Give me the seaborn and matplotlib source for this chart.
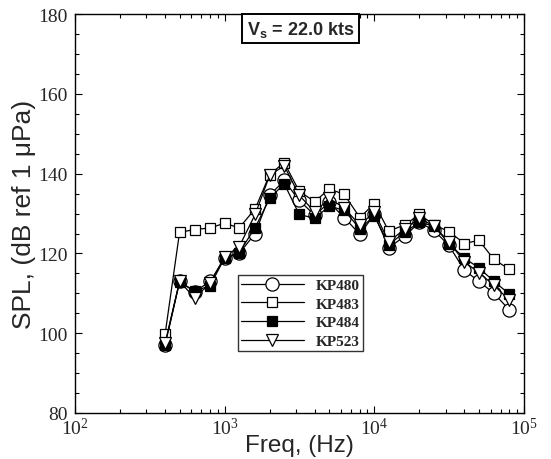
import numpy as np
import pandas as pd
import matplotlib
matplotlib.use("Agg")
import matplotlib.pyplot as plt
from matplotlib.ticker import FixedLocator, FixedFormatter, LogLocator, NullFormatter, MultipleLocator
import seaborn as sns

# One-third octave band centre frequencies (Hz)
freq = [400, 500, 630, 800, 1000, 1250, 1600, 2000, 2500, 3150, 4000, 5000,
        6300, 8000, 10000, 12500, 16000, 20000, 25000, 31500, 40000, 50000,
        63000, 80000]

# Band levels, dB ref 1 uPa
kp480 = [97.0, 113.0, 110.4, 113.0, 118.8, 120.0, 125.0, 134.6, 138.3, 133.3,
         129.6, 132.8, 129.0, 124.8, 129.8, 121.4, 124.4, 127.8, 125.8, 122.0,
         115.8, 113.0, 110.0, 105.8]
kp483 = [99.7, 125.3, 126.0, 126.4, 127.6, 126.4, 131.2, 139.8, 142.8, 135.6,
         133.0, 136.2, 134.8, 129.0, 132.5, 125.6, 127.2, 129.8, 127.2, 125.5,
         122.5, 123.3, 118.5, 116.0]
kp484 = [97.0, 112.9, 110.6, 111.9, 118.9, 120.2, 126.5, 133.8, 137.5, 129.8,
         128.8, 131.9, 130.8, 126.2, 129.4, 122.2, 125.4, 127.8, 126.9, 122.5,
         118.8, 116.4, 113.0, 109.8]
kp523 = [97.5, 113.0, 108.9, 112.5, 119.2, 121.7, 129.8, 139.6, 142.0, 134.6,
         130.4, 133.8, 131.4, 127.1, 130.4, 122.9, 126.2, 128.8, 126.9, 122.9,
         117.9, 115.2, 112.0, 108.3]

series_names = ["KP480", "KP483", "KP484", "KP523"]
series_vals = [kp480, kp483, kp484, kp523]

y_ticks = [80, 100, 120, 140, 160, 180]
x_ticks = [1e2, 1e3, 1e4, 1e5]
x_tick_labels = [r"$\mathrm{10^{2}}$", r"$\mathrm{10^{3}}$",
                 r"$\mathrm{10^{4}}$", r"$\mathrm{10^{5}}$"]

df = pd.DataFrame({
    "freq": np.tile(freq, len(series_names)),
    "spl": np.concatenate(series_vals),
    "sensor": np.repeat(series_names, len(freq)),
})

sns.set_style("ticks")
plt.rcParams["font.family"] = ["Liberation Serif", "DejaVu Serif"]
plt.rcParams["mathtext.fontset"] = "custom"
plt.rcParams["mathtext.rm"] = "Liberation Serif"
plt.rcParams["mathtext.bf"] = "Liberation Sans:bold"
plt.rcParams["mathtext.default"] = "rm"

fig = plt.figure(figsize=(5.51, 4.60), dpi=100)
ax = fig.add_axes([0.136, 0.100, 0.815, 0.867])

styles = {
    "KP480": dict(marker="o", markersize=9.5, markerfacecolor="white"),
    "KP483": dict(marker="s", markersize=7.0, markerfacecolor="white"),
    "KP484": dict(marker="s", markersize=7.0, markerfacecolor="black"),
    "KP523": dict(marker="v", markersize=8.5, markerfacecolor="white"),
}

for name in series_names:
    sub = df[df["sensor"] == name]
    sns.lineplot(data=sub, x="freq", y="spl", ax=ax, color="black",
                 linewidth=0.9, markeredgecolor="black", markeredgewidth=0.9,
                 label=name, **styles[name])

ax.set_xscale("log")
ax.set_xlim(1e2, 1e5)
ax.set_ylim(80, 180)

ax.xaxis.set_major_locator(FixedLocator(x_ticks))
ax.xaxis.set_major_formatter(FixedFormatter(x_tick_labels))
ax.xaxis.set_minor_locator(LogLocator(base=10, subs=np.arange(2, 10)))
ax.xaxis.set_minor_formatter(NullFormatter())
ax.yaxis.set_major_locator(FixedLocator(y_ticks))
ax.yaxis.set_minor_locator(MultipleLocator(5))

ax.tick_params(axis="both", which="both", direction="in", top=True, right=True,
               color="black", width=0.8)
ax.tick_params(axis="both", which="major", length=5, labelsize=14)
ax.tick_params(axis="y", which="major", pad=5)
ax.tick_params(axis="x", which="major", pad=3)
ax.tick_params(axis="both", which="minor", length=3)

for sp in ax.spines.values():
    sp.set_color("black")
    sp.set_linewidth(1.0)

ax.set_xlabel("Freq, (Hz)", family="Liberation Sans", fontsize=17.5, labelpad=-3)
ax.set_ylabel("SPL, (dB ref 1 μPa)", family="Liberation Sans", fontsize=19,
              labelpad=2)

leg = ax.legend(loc="lower left", bbox_to_anchor=(0.363, 0.155),
                frameon=True, fancybox=False, borderpad=0.2,
                handlelength=4.1, handletextpad=0.8, labelspacing=0.33,
                borderaxespad=0.0,
                prop={"family": "Liberation Serif", "weight": "bold", "size": 11})
leg.get_frame().set_edgecolor("black")
leg.get_frame().set_linewidth(1.0)

ax.text(0.502, 0.988, r"$\mathbf{V_s}$ = 22.0 kts", transform=ax.transAxes,
        ha="center", va="top", family="Liberation Sans", fontweight="bold",
        fontsize=13,
        bbox=dict(boxstyle="square,pad=0.25", facecolor="white",
                  edgecolor="black", linewidth=1.4))

fig.savefig("out.png", dpi=100)
